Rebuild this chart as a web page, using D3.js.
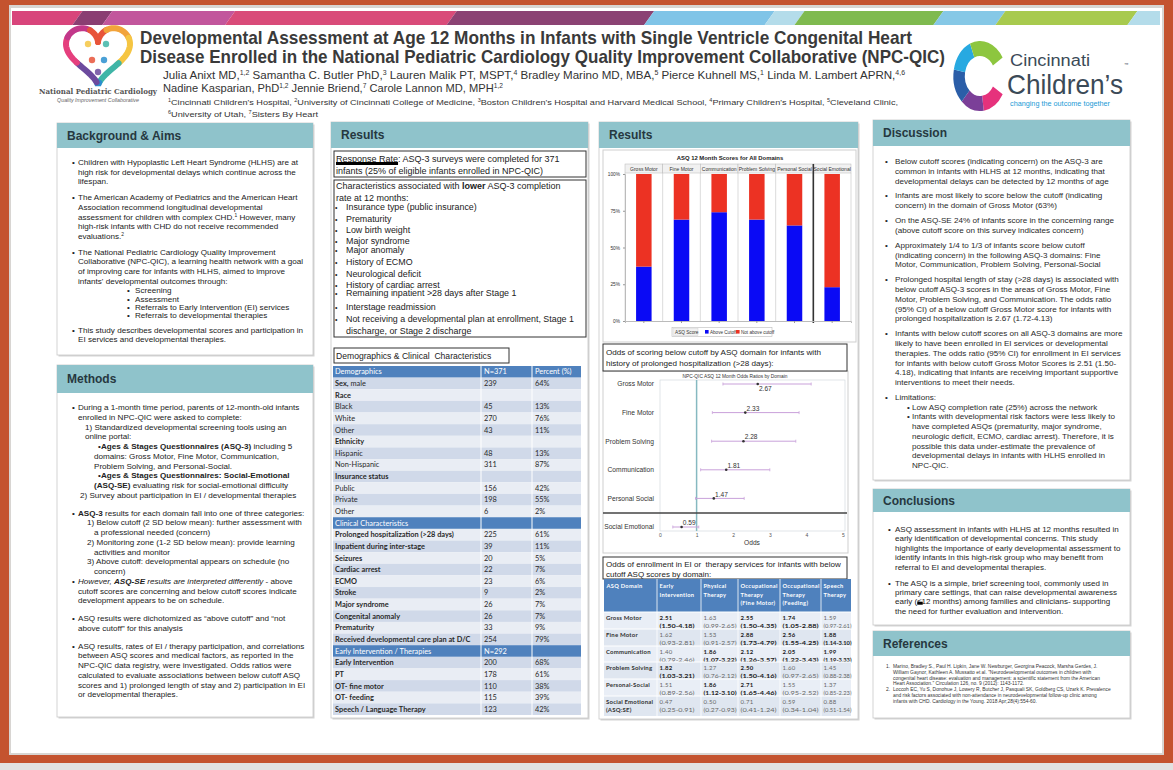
<!DOCTYPE html>
<html><head><meta charset="utf-8">
<script src="https://cdn.jsdelivr.net/npm/d3@7"></script>
<style>body{margin:0;background:#fff}svg{display:block}text{white-space:pre}</style>
</head><body>
<script>
// ---------------- DATA ----------------
const titleLines = ["Developmental Assessment at Age 12 Months in Infants with Single Ventricle Congenital Heart",
  "Disease Enrolled in the National Pediatric Cardiology Quality Improvement Collaborative (NPC-QIC)"];
const authorLines = ["Julia Anixt MD,^1,2^ Samantha C. Butler PhD,^3^ Lauren Malik PT, MSPT,^4^ Bradley Marino MD, MBA,^5^ Pierce Kuhnell MS,^1^ Linda M. Lambert APRN,^4,6^",
  "Nadine Kasparian, PhD^1,2^ Jennie Briend,^7^ Carole Lannon MD, MPH^1,2^"];
const affilLines = ["^1^Cincinnati Children's Hospital, ^2^University of Cincinnati College of Medicine, ^3^Boston Children's Hospital and Harvard Medical School, ^4^Primary Children's Hospital, ^5^Cleveland Clinic,",
  "^6^University of Utah, ^7^Sisters By Heart"];

const bgLines = [
 "B|Children with Hypoplastic Left Heart Syndrome (HLHS) are at",
 "C|high risk for developmental delays which continue across the",
 "C|lifespan.","G|",
 "B|The American Academy of Pediatrics and the American Heart",
 "C|Association recommend longitudinal developmental",
 "C|assessment for children with complex CHD.^1^ However, many",
 "C|high-risk infants with CHD do not receive recommended",
 "C|evaluations.^2^","G|",
 "B|The National Pediatric Cardiology Quality Improvement",
 "C|Collaborative (NPC-QIC), a learning health network with a goal",
 "C|of improving care for infants with HLHS, aimed to improve",
 "C|infants' developmental outcomes through:",
 "S|Screening","S|Assessment","S|Referrals to Early Intervention (EI) services","S|Referrals to developmental therapies","G|",
 "B|This study describes developmental scores and participation in",
 "C|EI services and developmental therapies."];

const methodLines = [
 "B|During a 1-month time period, parents of 12-month-old infants",
 "C|enrolled in NPC-QIC were asked to complete:",
 "N|1) Standardized developmental screening tools using an",
 "N|online portal:",
 "Q|**Ages & Stages Questionnaires (ASQ-3)** including 5",
 "R|domains: Gross Motor, Fine Motor, Communication,",
 "R|Problem Solving, and Personal-Social.",
 "Q|**Ages & Stages Questionnaires: Social-Emotional**",
 "R|**(ASQ-SE)** evaluating risk for social-emotional difficulty",
 "M|2) Survey about participation in EI / developmental therapies","G|",
 "B|**ASQ-3** results for each domain fall into one of three categories:",
 "K|1) Below cutoff (2 SD below mean): further assessment with",
 "L|a professional needed (concern)",
 "K|2) Monitoring zone (1-2 SD below mean): provide learning",
 "L|activities and monitor",
 "K|3) Above cutoff: developmental appears on schedule (no",
 "L|concern)",
 "B|__However, **ASQ-SE** results are interpreted differently__ - above",
 "C|cutoff scores are concerning and below cutoff scores indicate",
 "C|development appears to be on schedule.","G|",
 "B|ASQ results were dichotomized as \u201cabove cutoff\u201d and \u201cnot",
 "C|above cutoff\u201d for this analysis","G|",
 "B|ASQ results, rates of EI / therapy participation, and correlations",
 "C|between ASQ scores and medical factors, as reported in the",
 "C|NPC-QIC data registry, were investigated. Odds ratios were",
 "C|calculated to evaluate associations between below cutoff ASQ",
 "C|scores and 1) prolonged length of stay and 2) participation in EI",
 "C|or developmental therapies."];

const responseLines = ["Response Rate: ASQ-3 surveys were completed for 371",
  "infants (25% of eligible infants enrolled in NPC-QIC)"];
const charIntro = ["Characteristics associated with **lower** ASQ-3 completion","rate at 12 months:"];
const charItems = ["Insurance type (public insurance)","Prematurity","Low birth weight","Major syndrome","Major anomaly",
  "History of ECMO","Neurological deficit","History of cardiac arrest","Remaining inpatient >28 days after Stage 1",
  "Interstage readmission","Not receiving a developmental plan at enrollment, Stage 1"];
const charTail = "discharge, or Stage 2 discharge";

const demoTitle = "Demographics & Clinical  Characteristics";
const demoLabels = ["Demographics","**Sex,** male","**Race**","Black","White","Other","**Ethnicity**","Hispanic","Non-Hispanic",
 "**Insurance status**","Public","Private","Other","Clinical Characteristics","**Prolonged hospitalization (>28 days)**",
 "**Inpatient during inter-stage**","**Seizures**","**Cardiac arrest**","**ECMO**","**Stroke**","**Major syndrome**",
 "**Congenital anomaly**","**Prematurity**","**Received developmental care plan at D/C**","Early Intervention / Therapies",
 "**Early Intervention**","**PT**","**OT- fine motor**","**OT- feeding**","**Speech / Language Therapy**"];
const demoN = ["N=371","239","","45","270","43","","48","311","","156","198","6","","225","39","20","22","23","9","26","26","33","254","N=292","200","178","110","115","123"];
const demoPct = ["Percent (%)","64%","","13%","76%","11%","","13%","87%","","42%","55%","2%","","61%","11%","5%","7%","6%","2%","7%","7%","9%","79%","","68%","61%","38%","39%","42%"];
const demoSections = [0,13,24];

const barTitle = "ASQ 12 Month Scores for All Domains";
const domains = ["Gross Motor","Fine Motor","Communication","Problem Solving","Personal Social","Social Emotional"];
const aboveCutoff = [37, 69, 74, 69, 65, 23];
const barTicks = [0,25,50,75,100];
const legendTitle = "ASQ Score";
const legendLabels = ["Above Cutoff","Not above cutoff"];

const orTitleLines = ["Odds of scoring below cutoff by ASQ domain for infants with","history of prolonged hospitalization (>28 days):"];
const orChartTitle = "NPC-QIC ASQ 12 Month Odds Ratios by Domain";
const orDomains = ["Gross Motor","Fine Motor","Problem Solving","Communication","Personal Social","Social Emotional"];
const orValues = [2.67, 2.33, 2.28, 1.81, 1.47, 0.59];
const orLower  = [1.72, 1.43, 1.41, 1.11, 0.97, 0.35];
const orUpper  = [4.13, 3.80, 3.71, 3.00, 2.30, 1.06];
const orTicks = [0,1,2,3,4,5];
const orAxisLabel = "Odds";

const eiTitleLines = ["Odds of enrollment in EI or  therapy services for infants with below","cutoff ASQ scores by domain:"];
const eiColumns = ["ASQ Domain","Early|Intervention","Physical|Therapy","Occupational|Therapy|(Fine Motor)","Occupational|Therapy|(Feeding)","Speech|Therapy"];
const eiDomains = ["Gross Motor","Fine Motor","Communication","Problem Solving","Personal-Social","Social Emotional|(ASQ:SE)"];
const eiOR  = [[2.51,1.63,2.55,1.74,1.59],[1.62,1.53,2.88,2.56,1.88],[1.40,1.86,2.12,2.05,1.99],[1.82,1.27,2.50,1.60,1.45],[1.51,1.86,2.71,1.55,1.37],[0.47,0.50,0.71,0.59,0.88]];
const eiLow = [[1.50,0.99,1.50,1.05,0.97],[0.93,0.91,1.73,1.55,1.14],[0.79,1.07,1.26,1.22,1.19],[1.03,0.76,1.50,0.97,0.88],[0.89,1.12,1.65,0.95,0.85],[0.25,0.27,0.41,0.34,0.51]];
const eiHigh= [[4.18,2.65,4.35,2.88,2.61],[2.81,2.57,4.79,4.25,3.10],[2.46,3.22,3.57,3.43,3.33],[3.21,2.12,4.16,2.65,2.38],[2.56,3.10,4.46,2.52,2.23],[0.91,0.93,1.24,1.04,1.54]];

const discLines = [
 "B|Below cutoff scores (indicating concern) on the ASQ-3 are",
 "C|common in infants with HLHS at 12 months, indicating that",
 "C|developmental delays can be detected by 12 months of age","G|",
 "B|Infants are most likely to score below the cutoff (indicating",
 "C|concern) in the domain of Gross Motor (63%)","G|",
 "B|On the ASQ-SE 24% of infants score in the concerning range",
 "C|(above cutoff score on this survey indicates concern)","G|",
 "B|Approximately 1/4 to 1/3 of infants score below cutoff",
 "C|(indicating concern) in the following ASQ-3 domains: Fine",
 "C|Motor, Communication, Problem Solving, Personal-Social","G|",
 "B|Prolonged hospital length of stay (>28 days) is associated with",
 "C|below cutoff ASQ-3 scores in the areas of Gross Motor, Fine",
 "C|Motor, Problem Solving, and Communication. The odds ratio",
 "C|(95% CI) of a below cutoff Gross Motor score for infants with",
 "C|prolonged hospitalization is 2.67 (1.72-4.13)","G|",
 "B|Infants with below cutoff scores on all ASQ-3 domains are more",
 "C|likely to have been enrolled in EI services or developmental",
 "C|therapies. The odds ratio (95% CI) for enrollment in EI services",
 "C|for infants with below cutoff Gross Motor Scores is 2.51 (1.50-",
 "C|4.18), indicating that infants are receiving important supportive",
 "C|interventions to meet their needs.","G|",
 "B|Limitations:",
 "S|Low ASQ completion rate (25%) across the network",
 "S|Infants with developmental risk factors were less likely to",
 "T|have completed ASQs (prematurity, major syndrome,",
 "T|neurologic deficit, ECMO, cardiac arrest). Therefore, it is",
 "T|possible this data under-estimate the prevalence of",
 "T|developmental delays in infants with HLHS enrolled in",
 "T|NPC-QIC."];

const conclLines = [
 "B|ASQ assessment in infants with HLHS at 12 months resulted in",
 "C|early identification of developmental concerns. This study",
 "C|highlights the importance of early developmental assessment to",
 "C|identify infants in this high-risk group who may benefit from",
 "C|referral to EI and developmental therapies.","G|",
 "B|The ASQ is a simple, brief screening tool, commonly used in",
 "C|primary care settings, that can raise developmental awareness",
 "C|early (\u226412 months) among families and clinicians- supporting",
 "C|the need for further evaluation and intervention."];

const refLines = [
 "1|Marino, Bradley S., Paul H. Lipkin, Jane W. Newburger, Georgina Peacock, Marsha Gerdes, J.",
 "C|William Gaynor, Kathleen A. Mussatto et al. \"Neurodevelopmental outcomes in children with",
 "C|congenital heart disease: evaluation and management: a scientific statement from the American",
 "C|Heart Association.\" Circulation 126, no. 9 (2012): 1143-1172.",
 "2|Loccoh EC, Yu S, Donohue J, Lowery R, Butcher J, Pasquali SK, Goldberg CS, Uzark K. Prevalence",
 "C|and risk factors associated with non-attendance in neurodevelopmental follow-up clinic among",
 "C|infants with CHD. Cardiology in the Young. 2018 Apr;28(4):554-60."];

const stripColors = ["#d8457b","#8a3e72","#c2569c","#d94b79","#8b4273","#80c4e7","#b4dcea","#7fba4f","#86c8e6","#a8ca4e","#b4dcea"];
const stripStops = [0,0.057,0.083,0.19,0.383,0.555,0.66,0.686,0.807,0.861,0.976,1];

// ---------------- RENDER ----------------
const SANS = "'Liberation Sans', Arial, Helvetica, sans-serif";
const NARROW = "'Liberation Sans Narrow','Arial Narrow','Liberation Sans',sans-serif";
const TBL = "Lato, 'Open Sans', sans-serif";
const svg = d3.select("body").append("svg").attr("width",1173).attr("height",770).style("font-family",SANS);

function rich(sel, str, fs){
  const shift = fs*0.33; let bold=false, ital=false, sup=false, lastSup=false;
  str.split(/(\*\*|__|\^)/).forEach(p=>{
    if(p==="**"){bold=!bold;return;} if(p==="__"){ital=!ital;return;} if(p==="^"){sup=!sup;return;}
    if(p==="") return;
    const t = sel.append("tspan").text(p);
    if(bold) t.attr("font-weight","bold");
    if(ital) t.attr("font-style","italic");
    if(sup){ t.attr("font-size",fs*0.6); if(!lastSup) t.attr("dy",-shift); }
    else if(lastSup) t.attr("dy",shift);
    lastSup = sup;
  });
  return sel;
}
function txt(g,x,y,str,fs,opt={}){
  const t = g.append("text").attr("x",x).attr("y",y).attr("font-size",fs).attr("fill",opt.fill||"#222");
  if(opt.family) t.attr("font-family",opt.family);
  if(opt.weight) t.attr("font-weight",opt.weight);
  if(opt.anchor) t.attr("text-anchor",opt.anchor);
  if(opt.style) t.attr("font-style",opt.style);
  if(opt.ls) t.attr("letter-spacing",opt.ls);
  rich(t,str,fs);
  if(opt.len) t.attr("textLength",opt.len).attr("lengthAdjust","spacingAndGlyphs");
  return t;
}
function measure(str,fs,family){
  const t=svg.append("text").attr("font-size",fs).attr("font-family",family||SANS).style("white-space","pre").text(str);
  const w=t.node().getComputedTextLength(); t.remove(); return w;
}
function block(g,lines,x0,y0,lh,gap,fs,ind,fill){
  let y=y0; const pos=[];
  lines.forEach(line=>{
    const k=line.indexOf("|"), code=line.slice(0,k), s=line.slice(k+1);
    if(code==="G"){ y+=gap; return; }
    const o=ind[code];
    if(o.b!==undefined) txt(g,x0+o.b,y,o.sym||"\u2022",fs,{fill});
    txt(g,x0+o.t,y,s,fs,{fill});
    pos.push({x:x0+o.t,y,s});
    y+=(o.lh||lh);
  });
  return pos;
}

// frame
svg.append("rect").attr("width",1173).attr("height",770).attr("fill","#e2e2e2");
svg.append("rect").attr("width",1173).attr("height",763).attr("fill","#c4532f");
svg.append("rect").attr("x",9).attr("y",5).attr("width",1155).attr("height",750).attr("fill","#d8d5d2");
svg.append("rect").attr("x",11).attr("y",8).attr("width",1151).attr("height",745).attr("fill","#ffffff");
const sx = d3.scaleLinear().domain([0,1]).range([12,1160]);
svg.append("g").selectAll("polygon").data(stripColors).join("polygon")
  .attr("points",(c,i)=>{const a=sx(stripStops[i]),b=sx(stripStops[i+1]);
     const a1=i===0?a:a+5, a2=i===0?a:a-5, b1=i===stripColors.length-1?b:b+5, b2=i===stripColors.length-1?b:b-5;
     return `${a1},11 ${b1},11 ${b2},25 ${a2},25`;})
  .attr("fill",c=>c);

// header
const hd = svg.append("g");
titleLines.forEach((s,i)=>txt(hd,140,[44,63][i],s,18.5,{family:NARROW,weight:"bold",fill:"#3a3a3a",len:[772,805][i]}));
authorLines.forEach((s,i)=>txt(hd,163,[79,92][i],s,11.3,{family:NARROW,fill:"#333",len:[742,340][i]}));
affilLines.forEach((s,i)=>txt(hd,168,[104.5,116.5][i],s,7.8,{family:NARROW,fill:"#333",len:[730,150][i]}));

const heart = d3.range(0,2*Math.PI+0.001,0.05).map(t=>[98+2.0*16*Math.pow(Math.sin(t),3), 52-2.0*(13*Math.cos(t)-5*Math.cos(2*t)-2*Math.cos(3*t)-Math.cos(4*t))]);
const heartCols = ["#e8543a","#f2a33a","#f5c542","#3fb5a7","#2a8fcf","#6c4a9e","#e53f7d","#c2388a","#e8543a"];
const segN = Math.ceil(heart.length/heartCols.length);
heartCols.forEach((c,i)=>{
  const pts = heart.slice(i*segN, Math.min(heart.length,(i+1)*segN+1));
  hd.append("path").attr("d",d3.line()(pts)).attr("fill","none").attr("stroke",c).attr("stroke-width",6).attr("stroke-linecap","round");
});
[[88,44,"#f5c542"],[106,44,"#3fb5a7"],[92,60,"#e8543a"],[104,60,"#2a8fcf"],[98,72,"#6c4a9e"]].forEach(d=>
  hd.append("circle").attr("cx",d[0]).attr("cy",d[1]).attr("r",3.2).attr("fill",d[2]).attr("opacity",0.85));
txt(hd,98,94,"National Pediatric Cardiology",8.2,{family:"'DejaVu Serif',serif",weight:"bold",fill:"#555",anchor:"middle",len:118});
txt(hd,98,102,"Quality Improvement Collaborative",5.8,{style:"italic",fill:"#666",anchor:"middle",len:82});

const arc = d3.arc().innerRadius(16).outerRadius(28);
const lg = hd.append("g").attr("transform","translate(980,76) scale(0.95,1.25)");
[[2.12,3.0,"#e6327c"],[3.0,3.9,"#7b3f98"],[3.9,4.9,"#2b5ea8"],[4.9,5.9,"#27a9e1"],[5.9,7.3,"#8dc63f"]].forEach(d=>
  lg.append("path").attr("d",arc({startAngle:d[0],endAngle:d[1]})).attr("fill",d[2]));
txt(hd,1010,65.5,"Cincinnati",16,{fill:"#3b4a57",len:80});
txt(hd,1007,94,"Children\u2019s",28.5,{fill:"#3b4a57",len:116});
txt(hd,1124,66,"\u2122",4.5,{fill:"#3b4a57"});
txt(hd,1010,106,"changing the outcome together",6.6,{fill:"#1b9ad6",len:100});

function panel(x,y,w,h,hh,title){
  const g=svg.append("g");
  g.append("rect").attr("x",x+1.5).attr("y",y+1.5).attr("width",w).attr("height",h).attr("fill","#d4d4d4");
  g.append("rect").attr("x",x).attr("y",y).attr("width",w).attr("height",h).attr("fill","#fff").attr("stroke","#c9c9c9").attr("stroke-width",0.8);
  g.append("rect").attr("x",x).attr("y",y).attr("width",w).attr("height",hh).attr("fill","#8fc3cb");
  txt(g,x+10,y+hh/2+4.3,title,12,{weight:"bold",fill:"#263840"});
  return g;
}
const gBg = panel(57,123,256,232,25,"Background & Aims");
block(gBg,bgLines,57,165,9.7,6,8.1,{B:{b:15,t:21},C:{t:21},S:{b:70,t:78,lh:8.3}},"#222");

const gM = panel(57,365,256,352,28,"Methods");
block(gM,methodLines,57,410,9.75,8,8.1,{B:{b:15,t:21},C:{t:21},N:{t:28},Q:{b:41,t:44},R:{t:37},M:{t:23},K:{t:30},L:{t:37}},"#222");

// results col 1
const gR1 = panel(331,122,257,596,26,"Results");
gR1.append("rect").attr("x",334).attr("y",151).attr("width",252).attr("height",26).attr("fill","none").attr("stroke","#333");
txt(gR1,336,162,responseLines[0],9,{fill:"#222"});
gR1.append("line").attr("x1",336).attr("x2",336+measure("Response Rate",9)).attr("y1",163.5).attr("y2",163.5).attr("stroke","#000").attr("stroke-width",3);
txt(gR1,336,174,responseLines[1],9,{fill:"#222"});
gR1.append("rect").attr("x",334).attr("y",180).attr("width",252).attr("height",157).attr("fill","none").attr("stroke","#333");
const charY = [189,200.7,210,221.7,232.7,244,253,265,276.7,288.3,296.3,309.7,321.7,333.7];
charIntro.forEach((s,i)=>txt(gR1,336,charY[i],s,9));
charItems.forEach((s,i)=>{ txt(gR1,335,charY[i+2],"\u2022",7); txt(gR1,346,charY[i+2],s,8.9); });
txt(gR1,346,charY[13],charTail,8.9);

gR1.append("rect").attr("x",334).attr("y",348).attr("width",175).attr("height",15).attr("fill","none").attr("stroke","#333");
txt(gR1,336,359,demoTitle,8.6);
const dCols=[333,481,532,581];
const dy = d3.scaleBand().domain(d3.range(demoLabels.length)).range([366,715]);
const dRows = gR1.append("g").style("font-family",TBL);
demoLabels.forEach((lab,i)=>{
  const sec = demoSections.includes(i);
  dRows.append("rect").attr("x",dCols[0]).attr("y",dy(i)).attr("width",dCols[3]-dCols[0]).attr("height",dy.bandwidth())
    .attr("fill", sec ? "#4f81bd" : (i%2 ? "#d0d9e9" : "#e9edf4"));
  const col = sec ? "#fff" : "#2a2a2a";
  txt(dRows,dCols[0]+2,dy(i)+8.4,lab,7.4,{fill:col});
  txt(dRows,dCols[1]+3,dy(i)+8.4,demoN[i],7.4,{fill:col});
  txt(dRows,dCols[2]+3,dy(i)+8.4,demoPct[i],7.4,{fill:col});
});
[dCols[1],dCols[2]].forEach(x=>dRows.append("line").attr("x1",x).attr("x2",x).attr("y1",366).attr("y2",715).attr("stroke","#fff").attr("stroke-width",1));

// results col 2
const gR2 = panel(599,122,259,597,26,"Results");
const bc = gR2.append("g");
bc.append("rect").attr("x",603).attr("y",150).attr("width",253).attr("height",192).attr("fill","#fff").attr("stroke","#cfcfcf");
txt(bc,730,160,barTitle,5.9,{weight:"bold",anchor:"middle",fill:"#222"});
const bx = d3.scaleBand().domain(domains).range([625,851]);
const by = d3.scaleLinear().domain([0,100]).range([321,174]);
bc.selectAll(".strip").data(domains).join("rect").attr("x",d=>bx(d)).attr("y",164).attr("width",bx.bandwidth()).attr("height",9)
  .attr("fill","#f1f1f1").attr("stroke","#b8b8b8").attr("stroke-width",0.5);
bc.selectAll(".sl").data(domains).join("text").attr("x",d=>bx(d)+bx.bandwidth()/2).attr("y",170.6).attr("text-anchor","middle")
  .attr("font-size",5.0).attr("fill","#333").text(d=>d);
bc.selectAll(".vl").data(domains).join("line").attr("x1",d=>bx(d)+bx.bandwidth()).attr("x2",d=>bx(d)+bx.bandwidth())
  .attr("y1",173).attr("y2",321).attr("stroke","#c4c4c4").attr("stroke-width",0.6);
bc.append("line").attr("x1",625).attr("x2",625).attr("y1",173).attr("y2",321).attr("stroke","#c4c4c4").attr("stroke-width",0.6);
const bw=15.5;
bc.selectAll(".blue").data(domains).join("rect").attr("x",d=>bx(d)+bx.bandwidth()/2-bw/2).attr("width",bw)
  .attr("y",(d,i)=>by(aboveCutoff[i])).attr("height",(d,i)=>by(0)-by(aboveCutoff[i])).attr("fill","#0a0af5");
bc.selectAll(".red").data(domains).join("rect").attr("x",d=>bx(d)+bx.bandwidth()/2-bw/2).attr("width",bw)
  .attr("y",by(100)).attr("height",(d,i)=>by(aboveCutoff[i])-by(100)).attr("fill","#ec3223");
const sep = bx(domains[5]);
bc.append("line").attr("x1",sep).attr("x2",sep).attr("y1",164).attr("y2",323).attr("stroke","#333").attr("stroke-width",1.6);
const yAx = bc.append("g").attr("transform","translate(625,0)").call(d3.axisLeft(by).tickValues(barTicks).tickFormat(d=>d+"%").tickSize(2));
yAx.select(".domain").attr("stroke","#bbb"); yAx.selectAll("line").attr("stroke","#999");
yAx.selectAll("text").attr("font-size",4.8).attr("fill","#333").attr("font-family",SANS);
const xAx = bc.append("g").attr("transform","translate(0,321)").call(d3.axisBottom(bx).tickSize(2).tickFormat(""));
xAx.select(".domain").attr("stroke","#bbb"); xAx.selectAll("line").attr("stroke","#999");
bc.append("rect").attr("x",672).attr("y",327.5).attr("width",100).attr("height",9).attr("fill","#fff").attr("stroke","#bbb").attr("stroke-width",0.6);
bc.append("rect").attr("x",673).attr("y",328.5).attr("width",25).attr("height",7).attr("fill","#f1f1f1").attr("stroke","#ccc").attr("stroke-width",0.4);
txt(bc,675,334,legendTitle,4.7,{fill:"#333"});
[["#0a0af5",705],["#ec3223",736]].forEach((c,i)=>{
  bc.append("rect").attr("x",c[1]).attr("y",330).attr("width",3.6).attr("height",3.6).attr("fill",c[0]);
  txt(bc,c[1]+5,334,legendLabels[i],4.6,{fill:"#333"});
});

// forest plot
const fp = gR2.append("g");
fp.append("rect").attr("x",603).attr("y",371).attr("width",245).attr("height",182).attr("fill","#fff").attr("stroke","#cfcfcf");
fp.append("rect").attr("x",603).attr("y",344).attr("width",244).attr("height",27).attr("fill","#fff").attr("stroke","#333");
orTitleLines.forEach((s,i)=>txt(fp,606,355+i*11,s,8.1));
txt(fp,735,377.5,orChartTitle,4.8,{anchor:"middle",fill:"#333"});
const fx = d3.scaleLinear().domain([0,5]).range([660,843]);
const fy = d3.scalePoint().domain(orDomains).range([384,527]);
fp.append("rect").attr("x",660).attr("y",380).attr("width",185).attr("height",151).attr("fill","none").attr("stroke","#d3dbde").attr("stroke-width",0.7);
fp.append("line").attr("x1",fx(1)).attr("x2",fx(1)).attr("y1",380).attr("y2",531).attr("stroke","#86b9c1").attr("stroke-width",1.5);
fp.append("line").attr("x1",603).attr("x2",847).attr("y1",513).attr("y2",513).attr("stroke","#444").attr("stroke-width",1.5);
const fAx = fp.append("g").attr("transform","translate(0,533)").call(d3.axisBottom(fx).tickValues(orTicks).tickFormat(d3.format("d")).tickSize(0).tickPadding(0));
fAx.select(".domain").remove();
fAx.selectAll("text").attr("font-size",5).attr("fill","#555").attr("font-family",SANS);
txt(fp,752,545,orAxisLabel,6.6,{anchor:"middle",fill:"#333"});
orDomains.forEach((d,i)=>{
  const y=fy(d);
  txt(fp,654,y+2.3,d,6.7,{anchor:"end",fill:"#333"});
  fp.append("line").attr("x1",fx(orLower[i])).attr("x2",fx(orUpper[i])).attr("y1",y).attr("y2",y).attr("stroke","#c9a1da").attr("stroke-width",1);
  [orLower[i],orUpper[i]].forEach(v=>fp.append("line").attr("x1",fx(v)).attr("x2",fx(v)).attr("y1",y-1.5).attr("y2",y+1.5).attr("stroke","#c9a1da").attr("stroke-width",0.8));
  fp.append("circle").attr("cx",fx(orValues[i])).attr("cy",y).attr("r",1.3).attr("fill","#333");
  txt(fp,fx(orValues[i])+1.2,i===0?y+6.5:y-1.8,d3.format(".2f")(orValues[i]),6.6,{fill:"#333"});
});

// EI table
const et = gR2.append("g");
et.append("rect").attr("x",603).attr("y",557).attr("width",244).attr("height",22).attr("fill","#fff").attr("stroke","#333");
eiTitleLines.forEach((s,i)=>txt(et,606,567+i*9.5,s,8.0));
const eCols=[604,657,701,738,780,821,851];
et.append("rect").attr("x",604).attr("y",579).attr("width",247).attr("height",33).attr("fill","#4f81bd");
eiColumns.forEach((c,j)=>c.split("|").forEach((s,k)=>txt(et,eCols[j]+2.5,588+k*8.5,s,5.7,{family:TBL,weight:"bold",fill:"#fff",ls:0.3})));
const eyTop=[612,629,646,662,679,696], eyH=[17,17,16,17,17,20];
const f2 = d3.format(".2f");
const ciLen=[35,33,36,36,28];
eiDomains.forEach((d,i)=>{
  const top=eyTop[i];
  et.append("rect").attr("x",604).attr("y",top).attr("width",247).attr("height",eyH[i]).attr("fill",i%2?"#dfe6f0":"#e9eef6");
  d.split("|").forEach((s,k)=>txt(et,606,top+7.5+k*8,s,6.0,{family:TBL,weight:"bold",fill:"#333",ls:0.2}));
  eiOR[i].forEach((v,j)=>{
    const sig = eiLow[i][j]>1, col = sig?"#222":"#666";
    txt(et,eCols[j+1]+2.5,top+7.5,f2(v),6.0,{family:TBL,weight:sig?"bold":null,fill:col,ls:0.3});
    txt(et,eCols[j+1]+2.5,top+15.5,"("+f2(eiLow[i][j])+"-"+f2(eiHigh[i][j])+")",6.0,{family:TBL,weight:sig?"bold":null,fill:col,len:ciLen[j]});
  });
  et.append("line").attr("x1",604).attr("x2",851).attr("y1",top).attr("y2",top).attr("stroke","#fff").attr("stroke-width",1);
});
eCols.slice(1,-1).forEach(x=>et.append("line").attr("x1",x).attr("x2",x).attr("y1",579).attr("y2",716).attr("stroke","#fff").attr("stroke-width",0.8));

// discussion / conclusions / references
const gD = panel(873,120,257,360,26,"Discussion");
block(gD,discLines,873,164,9.75,5.2,8.1,{B:{b:12,t:22},C:{t:22},S:{b:34,t:39},T:{t:39}},"#2a2a2a");
const gC = panel(873,489,257,136,23,"Conclusions");
const cpos = block(gC,conclLines,873,532,9.4,6.5,8.0,{B:{b:15,t:22},C:{t:22}},"#1e1e1e");
const cl = cpos[7];
gC.append("rect").attr("x",cl.x+measure("early (",8.0)).attr("y",cl.y-2.6).attr("width",5.5).attr("height",3).attr("fill","#000");
const gRf = panel(873,631,257,87,25,"References");
block(gRf,refLines,873,668,5.8,0,4.9,{"1":{b:13,sym:"1.",t:20},"2":{b:13,sym:"2.",t:20},C:{t:20}},"#333");
</script>
</body></html>
